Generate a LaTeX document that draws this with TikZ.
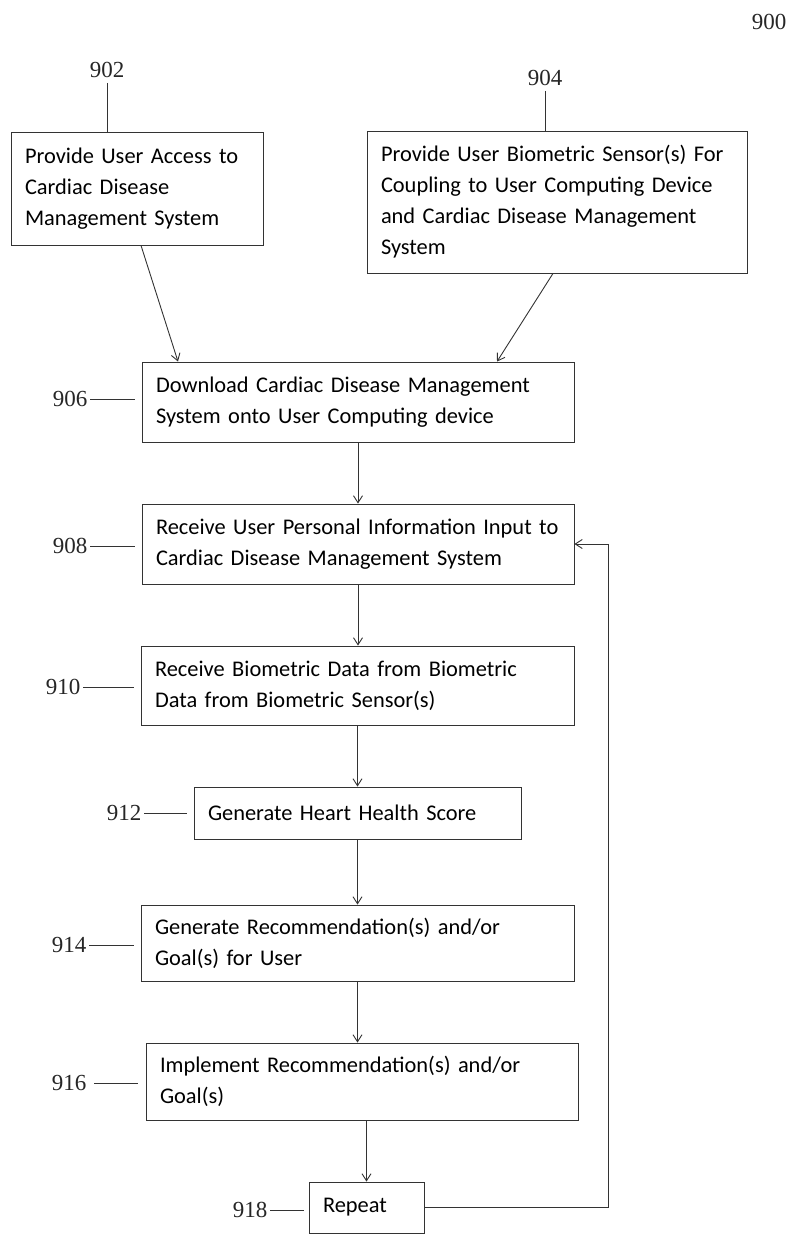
\documentclass[tikz,border=0pt]{standalone}
\usepackage{fontspec}
\setmainfont{Carlito}
\newfontfamily\numfont{Liberation Serif}
\usetikzlibrary{arrows.meta}
\begin{document}
\begin{tikzpicture}[x=1pt,y=-1pt,
  stepbox/.style={draw=black!80, line width=0.9pt, inner xsep=14pt, inner ysep=2pt,
    align=left, font=\fontsize{22.4}{31}\selectfont, anchor=center},
  refnum/.style={font=\numfont\fontsize{23}{23}\selectfont, inner sep=0pt, text=black!85},
  flow/.style={draw=black!80, line width=0.9pt, -{Straight Barb[length=7pt,width=9pt]}},
  leader/.style={draw=black!80, line width=0.9pt, shorten <=3pt, shorten >=7pt}]
\useasboundingbox (0,0) rectangle (788,1236);

% boxes
\node[stepbox, text width=224pt, minimum height=113pt] (b902) at (137,188.5)
  {Provide User Access to\\Cardiac Disease\\Management System};
\node[stepbox, text width=352pt, minimum height=142pt] (b904) at (557,202)
  {Provide User Biometric Sensor(s) For\\Coupling to User Computing Device\\and Cardiac Disease Management\\System};
\node[stepbox, text width=404pt, minimum height=80pt] (b906) at (358,402)
  {Download Cardiac Disease Management\\System onto User Computing device};
\node[stepbox, text width=404pt, minimum height=80pt] (b908) at (358,544)
  {\mbox{Receive User Personal Information Input to}\\Cardiac Disease Management System};
\node[stepbox, text width=405pt, minimum height=79pt] (b910) at (357.5,685.5)
  {Receive Biometric Data from Biometric\\Data from Biometric Sensor(s)};
\node[stepbox, text width=299pt, minimum height=52pt] (b912) at (357.5,813)
  {Generate Heart Health Score};
\node[stepbox, text width=405pt, minimum height=76pt] (b914) at (357.5,943)
  {Generate Recommendation(s) and/or\\Goal(s) for User};
\node[stepbox, text width=404pt, minimum height=77pt] (b916) at (362,1081.5)
  {Implement Recommendation(s) and/or\\Goal(s)};
\node[stepbox, text width=87pt, minimum height=51pt] (b918) at (366.5,1207.5)
  {Repeat};

% reference numerals
\node[refnum] (l900) at (769,22) {900};
\node[refnum] (l902) at (107,70) {902};
\node[refnum] (l904) at (545,78) {904};
\node[refnum] (l906) at (70,399) {906};
\node[refnum] (l908) at (70,546) {908};
\node[refnum] (l910) at (63,687) {910};
\node[refnum] (l912) at (124,813) {912};
\node[refnum] (l914) at (69,945) {914};
\node[refnum] (l916) at (69,1083) {916};
\node[refnum] (l918) at (250,1210) {918};

% leaders
\draw[leader, shorten >=0pt, shorten <=5pt] (l902.south) -- (l902.south |- b902.north);
\draw[leader, shorten >=0pt, shorten <=5pt] (l904.south) -- (l904.south |- b904.north);
\draw[leader] (l906.east) -- (l906.east -| b906.west);
\draw[leader] (l908.east) -- (l908.east -| b908.west);
\draw[leader] (l910.east) -- (l910.east -| b910.west);
\draw[leader] (l912.east) -- (l912.east -| b912.west);
\draw[leader] (l914.east) -- (l914.east -| b914.west);
\draw[leader, shorten <=8pt, shorten >=8pt] (l916.east) -- (l916.east -| b916.west);
\draw[leader, shorten >=5pt] (l918.east) -- (l918.east -| b918.west);

% flow
\draw[flow] ([xshift=4pt]b902.south) -- ([xshift=-180pt]b906.north);
\draw[flow] ([xshift=-4pt]b904.south) -- ([xshift=139pt]b906.north);
\draw[flow] (b906.south) -- (b908.north);
\draw[flow] (b908.south) -- (b908.south |- b910.north);
\draw[flow] (b910.south) -- (b912.north);
\draw[flow] (b912.south) -- (b914.north);
\draw[flow] (b914.south) -- (b914.south |- b916.north);
\draw[flow] (b918.north |- b916.south) -- (b918.north);
\draw[flow] (b918.east) -- ++(184,0) |- (b908.east);
\end{tikzpicture}
\end{document}
